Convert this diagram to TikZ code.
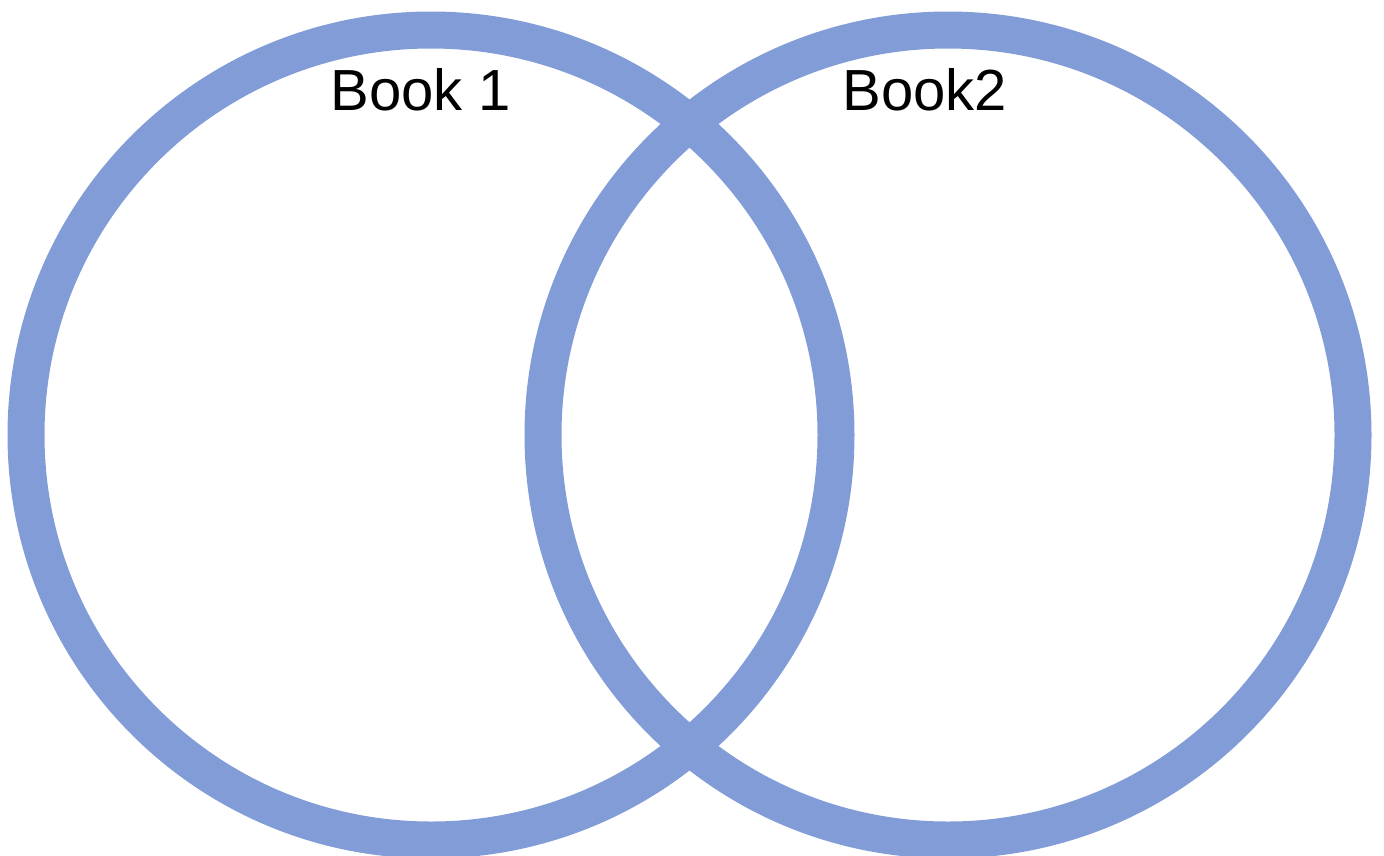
\documentclass[tikz,border=0pt]{standalone}
\usepackage{fontspec}
\setmainfont{Liberation Sans}
\definecolor{ringblue}{HTML}{819CD6}
\begin{document}
\begin{tikzpicture}[x=1pt,y=-1pt,
  ring/.style={draw=ringblue,line width=37pt},
  label/.style={font=\fontsize{58}{60}\selectfont,anchor=base,inner sep=0pt}]
\useasboundingbox (0,0) rectangle (1384,855);
\begin{scope}
\clip (0,0) rectangle (1384,855);
\draw[ring] (431,435) circle[radius=405];
\draw[ring] (948,435) circle[radius=405];
\end{scope}
\node[label] (b1) at (421,110) {Book 1};
\node[label] (b2) at (925,110) {Book2};
\end{tikzpicture}
\end{document}
